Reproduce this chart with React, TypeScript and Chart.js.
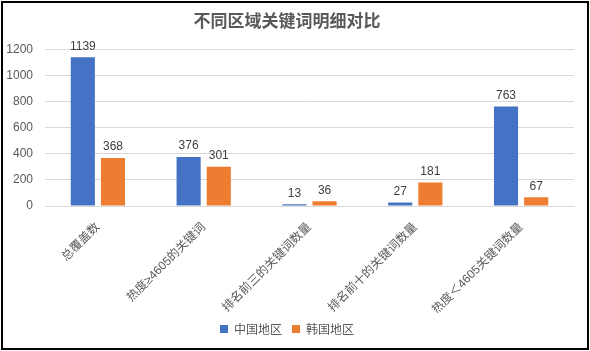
import React, { useEffect, useRef } from "react";
import { Chart, registerables } from "chart.js";

Chart.register(...registerables);

const categories = [
  "总覆盖数",
  "热度≥4605的关键词",
  "排名前三的关键词数量",
  "排名前十的关键词数量",
  "热度＜4605关键词数量",
];
const chinaValues = [1139, 376, 13, 27, 763];
const koreaValues = [368, 301, 36, 181, 67];
const seriesNames = ["中国地区", "韩国地区"];
const titleText = "不同区域关键词明细对比";

const FONT = '"Liberation Sans", "Noto Sans CJK SC", sans-serif';
const CJK = '"Noto Sans CJK SC", "Liberation Sans", sans-serif';

const valueLabels = {
  id: "valueLabels",
  afterDatasetsDraw(chart: any) {
    const ctx = chart.ctx;
    ctx.save();
    ctx.font = `12px ${FONT}`;
    ctx.fillStyle = "#404040";
    ctx.textAlign = "center";
    ctx.textBaseline = "bottom";
    chart.data.datasets.forEach((ds: any, i: number) => {
      const meta = chart.getDatasetMeta(i);
      meta.data.forEach((bar: any, j: number) => {
        ctx.fillText(String(ds.data[j]), bar.x, bar.y - 5);
      });
    });
    ctx.restore();
  },
};

export default function App() {
  const ref = useRef<HTMLCanvasElement>(null);
  useEffect(() => {
    const chart = new Chart(ref.current!, {
      type: "bar",
      data: {
        labels: categories,
        datasets: [
          {
            label: seriesNames[0],
            data: chinaValues,
            backgroundColor: "#4472C4",
            categoryPercentage: 0.57,
            barPercentage: 0.8,
          },
          {
            label: seriesNames[1],
            data: koreaValues,
            backgroundColor: "#ED7D31",
            categoryPercentage: 0.57,
            barPercentage: 0.8,
          },
        ],
      },
      options: {
        animation: false,
        responsive: false,
        maintainAspectRatio: false,
        layout: { padding: { left: 0, right: 16, top: 4, bottom: 6 } },
        plugins: {
          title: {
            display: true,
            text: titleText,
            color: "#595959",
            font: { family: CJK, size: 17, weight: "bold" },
            padding: { top: 6, bottom: 19 },
          },
          legend: {
            position: "bottom",
            labels: {
              color: "#595959",
              font: { family: CJK, size: 12 },
              boxWidth: 8,
              boxHeight: 8,
              padding: 10,
            },
          },
          tooltip: { enabled: false },
        },
        scales: {
          x: {
            afterFit: (scale: any) => {
              scale.height = scale.height - 10;
            },
            grid: { display: false },
            border: { display: true, color: "#d9d9d9" },
            ticks: {
              color: "#595959",
              font: { family: FONT, size: 12 },
              maxRotation: 45,
              minRotation: 45,
              padding: 6,
            },
          },
          y: {
            min: 0,
            max: 1200,
            afterFit: (scale: any) => {
              scale.width = 45;
            },
            grid: { color: "#d9d9d9", drawTicks: false },
            border: { display: false },
            ticks: {
              stepSize: 200,
              color: "#595959",
              font: { family: FONT, size: 12 },
              padding: 12,
              callback: (v: any) => String(v),
            },
          },
        },
      },
      plugins: [valueLabels],
    });
    return () => chart.destroy();
  }, []);
  return (
    <div style={{ position: "absolute", left: 0, top: 0, width: 590, height: 351, background: "#fff" }}>
      <canvas ref={ref} width={590} height={351} style={{ position: "absolute", left: 0, top: 0 }} />
      <div
        style={{
          position: "absolute",
          left: 1,
          top: 1,
          width: 588,
          height: 349,
          border: "2px solid #000",
          boxSizing: "border-box",
          pointerEvents: "none",
        }}
      />
    </div>
  );
}
